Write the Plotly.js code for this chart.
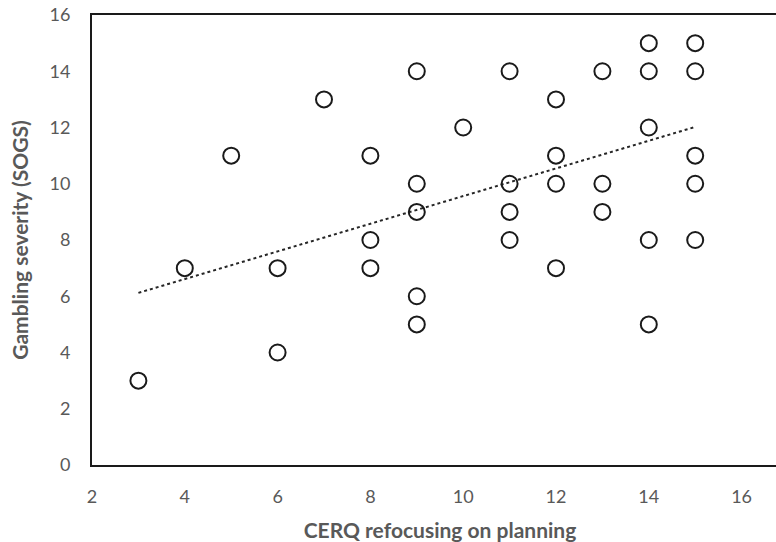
<!DOCTYPE html>
<html>
<head>
<meta charset="utf-8">
<script src="https://cdn.plot.ly/plotly-3.0.1.min.js"></script>
<style>
html,body{margin:0;padding:0;overflow:hidden;background:#fff;width:776px;height:542px;}
#chart{width:790px;height:542px;}
</style>
</head>
<body>
<div id="chart"></div>
<script>
// CERQ refocusing on planning (x) vs Gambling severity SOGS (y)
const cerqX = [3,4,5,6,6,7,8,8,8,9,9,9,9,9,10,11,11,11,11,12,12,12,12,13,13,13,14,14,14,14,14,15,15,15,15,15];
const sogsY = [3,7,11,7,4,13,11,8,7,14,10,9,6,5,12,14,10,9,8,13,11,10,7,14,10,9,15,14,12,8,5,15,14,11,10,8];
// Linear trend line endpoints
const trendX = [3, 15];
const trendY = [6.12, 12.02];
const xTicks = [2,4,6,8,10,12,14,16];
const yTicks = [0,2,4,6,8,10,12,14,16];

const traces = [
  {
    x: trendX, y: trendY, type: 'scatter', mode: 'lines',
    line: {color: '#262626', width: 2, dash: 'dot'},
    hoverinfo: 'skip', showlegend: false
  },
  {
    x: cerqX, y: sogsY, type: 'scatter', mode: 'markers',
    marker: {symbol: 'circle-open', size: 16, color: '#1a1a1a', line: {width: 2, color: '#1a1a1a'}},
    showlegend: false
  }
];

const tickFont = {family: 'Lato, "Open Sans", sans-serif', size: 18, color: '#595959'};
const titleFont = {family: 'Lato, "Open Sans", sans-serif', size: 21, color: '#595959', weight: 'bold'};

const layout = {
  width: 790, height: 542,
  margin: {l: 92, r: 2, t: 15, b: 77},
  paper_bgcolor: '#fff', plot_bgcolor: '#fff',
  showlegend: false,
  xaxis: {
    range: [2, 17], tickvals: xTicks, ticktext: xTicks.map(String),
    showgrid: false, zeroline: false, showline: true, mirror: true,
    linecolor: '#1a1a1a', linewidth: 2, ticks: '',
    tickfont: tickFont, ticklabelstandoff: 14,
    title: {text: 'CERQ refocusing on planning', font: titleFont, standoff: 20}
  },
  yaxis: {
    range: [0, 16], tickvals: yTicks, ticktext: yTicks.map(String),
    showgrid: false, zeroline: false, showline: true, mirror: true,
    linecolor: '#1a1a1a', linewidth: 2, ticks: '',
    tickfont: tickFont, ticklabelstandoff: 16,
    title: {text: 'Gambling severity (SOGS)', font: titleFont, standoff: 15}
  }
};

Plotly.newPlot('chart', traces, layout, {displayModeBar: false, staticPlot: true});
</script>
</body>
</html>
